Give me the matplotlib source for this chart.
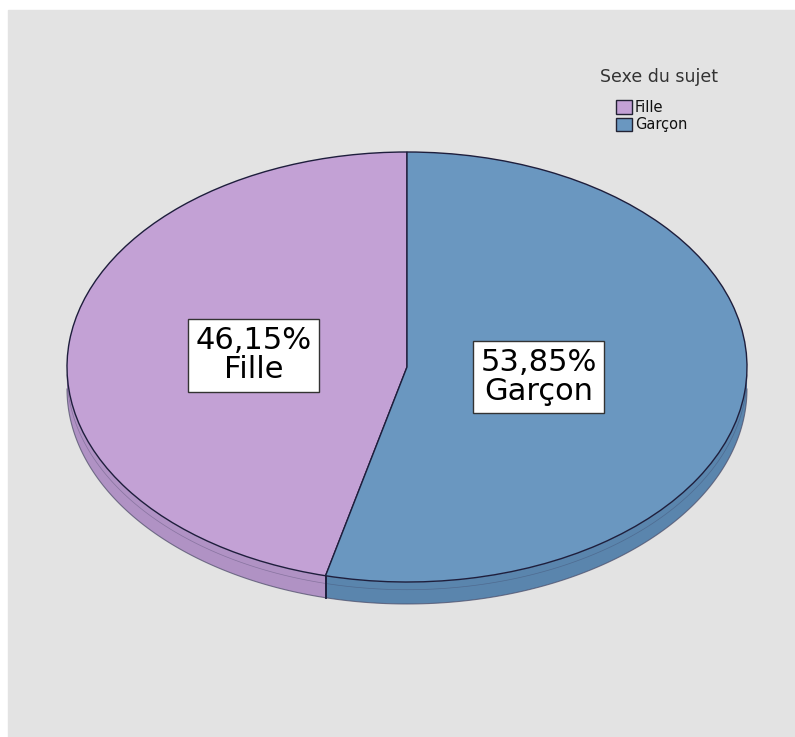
import numpy as np
import matplotlib.pyplot as plt
from matplotlib.patches import Rectangle

# donnees du graphique
categories = ['Fille', 'Garçon']
pourcentages = [46.15, 53.85]
labels_pct = ['46,15%', '53,85%']
legend_title = 'Sexe du sujet'

couleurs_dessus = ['#C3A1D5', '#6A97C0']
couleurs_cote = ['#B092C4', '#5A85AD']
bord = '#1E1E3C'

W, H = 795, 737
fig = plt.figure(figsize=(W / 100, H / 100), dpi=100, facecolor='white')

# ___fond gris + legende (coordonnees pixel)
bg = fig.add_axes([0, 0, 1, 1])
bg.set_xlim(0, W)
bg.set_ylim(H, 0)
bg.axis('off')
bg.add_patch(Rectangle((8, 10), W - 8, H - 10, color='#E3E3E3', zorder=0))

# ___camembert : ellipse centree (407,367), a=340, b=215 px
cx, cy, a, b = 407, 367, 340, 215
xr = (-1.1, 1.1)
yr = (-1.2, 1.1)
left = cx + xr[0] * a
top = cy - yr[1] * b
bottom = cy - yr[0] * b
ax = fig.add_axes([left / W, (H - bottom) / H, (xr[1] - xr[0]) * a / W, (bottom - top) / H])

wedges, _ = ax.pie(pourcentages, colors=couleurs_dessus, startangle=90, counterclock=True,
                   radius=1, wedgeprops=dict(edgecolor=bord, linewidth=1, zorder=3))
ax.set_aspect('auto')
ax.set_xlim(*xr)
ax.set_ylim(*yr)
ax.axis('off')

ep = 22 / b  # epaisseur du cote
for w, c in zip(wedges, couleurs_cote):
    t1, t2 = w.theta1, w.theta2
    for lo, hi in ((180, 360), (540, 720)):
        s, e = max(t1, lo), min(t2, hi)
        if e <= s:
            continue
        t = np.radians(np.linspace(s, e, 120))
        xs = np.cos(t)
        ys = np.sin(t)
        ax.fill(np.r_[xs, xs[::-1]], np.r_[ys, ys[::-1] - ep], color=c, lw=0, zorder=1)
        ax.plot(xs, ys - ep, color='#4A4A66', lw=0.8, alpha=0.7, zorder=2)
        ax.plot(xs, ys - ep * 0.35, color='#3A3A5A', lw=0.5, alpha=0.35, zorder=2)
    # arete verticale de separation
    for ang in (t1, t2):
        if 180 < ang % 360 < 360:
            r = np.radians(ang)
            ax.plot([np.cos(r), np.cos(r)], [np.sin(r), np.sin(r) - ep], color=bord, lw=1.2, zorder=2)

# ___etiquettes
dist = [0.455, 0.39]
for w, pct, cat, d in zip(wedges, labels_pct, categories, dist):
    m = np.radians((w.theta1 + w.theta2) / 2)
    ax.text(d * np.cos(m), d * np.sin(m), pct + '\n' + cat, ha='center', va='center',
            fontsize=22, family='DejaVu Sans', linespacing=1.0, zorder=5,
            bbox=dict(boxstyle='square,pad=0.24', fc='white', ec='#333333', lw=1))

# ___legende
bg.text(659, 77, legend_title, ha='center', va='center', fontsize=12.5, color='#333333')
for i, (cat, c) in enumerate(zip(categories, couleurs_dessus)):
    y0 = 100 + i * 17.5
    bg.add_patch(Rectangle((616, y0), 16, 13.5, fc=c, ec='#222233', lw=1))
    bg.text(635, y0 + 7, cat, ha='left', va='center', fontsize=10.5, color='#111111')

fig.savefig('out.png', dpi=100, facecolor='white')
